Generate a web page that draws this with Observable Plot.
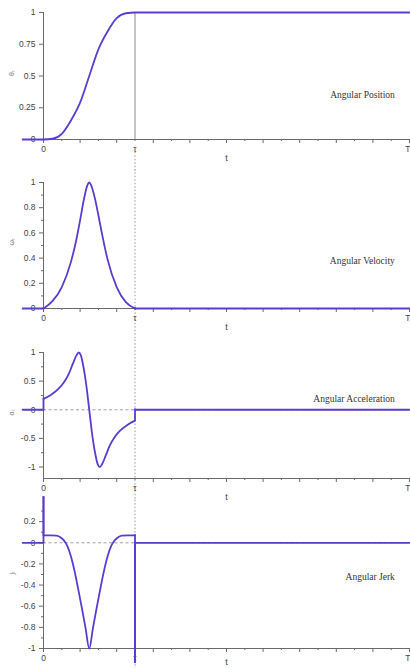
<!DOCTYPE html>
<html>
<head>
<meta charset="utf-8">
<script src="https://cdn.jsdelivr.net/npm/d3@7"></script>
<script src="https://cdn.jsdelivr.net/npm/@observablehq/plot@0.6"></script>
<style>
  html, body { margin: 0; padding: 0; background: #fff; }
  #wrap { position: relative; width: 410px; height: 668px; overflow: hidden; }
</style>
</head>
<body>
<div id="wrap"></div>
<script>
// ---- Data ----
const tau = 2.5;
const xMajorTicks = [0, 1, 2, 3, 4, 5, 6, 7, 8, 9, 10];
const xMinorTicks = [0.5, 1.5, 2.5, 3.5, 4.5, 5.5, 6.5, 7.5, 8.5, 9.5];
const xLabelTicks = [0, 2.5];
const xLabelTexts = ["0", "τ"];
const xEndTick = [10];
const xEndText = ["T"];

const titles = ["Angular Position", "Angular Velocity", "Angular Acceleration", "Angular Jerk"];
const symbols = ["θₜ", "ωₜ", "αₜ", "jₜ"];

// Angular position
const posT = [-0.57, 0, 0.25, 0.5, 0.75, 1.0, 1.25, 1.5, 1.75, 2.0, 2.25, 2.5, 10];
const posV = [0, 0, 0.006, 0.045, 0.15, 0.29, 0.5, 0.71, 0.85, 0.955, 0.994, 1, 1];

// Angular velocity
const velT = [-0.57, 0, 0, 0.25, 0.5, 0.75, 0.9, 1.0, 1.1, 1.2, 1.25, 1.3, 1.4, 1.5, 1.6, 1.75, 2.0, 2.25, 2.5, 2.5, 10];
const velV = [0, 0, 0, 0.06, 0.17, 0.37, 0.55, 0.7, 0.86, 0.98, 1.0, 0.98, 0.88, 0.74, 0.59, 0.39, 0.17, 0.05, 0, 0, 0];

// Angular acceleration
const accT = [-0.57, 0, 0, 0.2, 0.4, 0.55, 0.7, 0.8, 0.9, 0.96, 1.02, 1.1, 1.18, 1.25, 1.32, 1.4, 1.48, 1.54, 1.6, 1.7, 1.8, 1.95, 2.1, 2.3, 2.5, 2.5, 10];
const accV = [0, 0, 0.19, 0.26, 0.36, 0.47, 0.64, 0.8, 0.95, 1.0, 0.95, 0.72, 0.38, 0, -0.38, -0.72, -0.95, -1.0, -0.95, -0.8, -0.64, -0.47, -0.36, -0.26, -0.19, 0, 0];

// Angular jerk
const jerkT = [-0.57, 0, 0, 0, 0.2, 0.35, 0.45, 0.55, 0.65, 0.75, 0.85, 0.95, 1.05, 1.15, 1.25, 1.35, 1.45, 1.55, 1.65, 1.75, 1.85, 1.95, 2.05, 2.15, 2.3, 2.5, 2.5, 2.5, 10];
const jerkV = [0, 0, 0.43, 0.07, 0.07, 0.068, 0.055, 0.025, -0.03, -0.13, -0.27, -0.44, -0.62, -0.81, -1.0, -0.81, -0.62, -0.44, -0.27, -0.13, -0.03, 0.025, 0.055, 0.068, 0.07, 0.07, -1.13, 0, 0];

// Y ticks per panel
const yMajor = [
  [0, 0.25, 0.5, 0.75, 1],
  [0, 0.2, 0.4, 0.6, 0.8, 1],
  [-1, -0.5, 0, 0.5, 1],
  [-1, -0.8, -0.6, -0.4, -0.2, 0, 0.2]
];
const yMinor = [
  [],
  [0.1, 0.3, 0.5, 0.7, 0.9],
  [-0.75, -0.25, 0.25, 0.75],
  [-0.9, -0.7, -0.5, -0.3, -0.1, 0.1, 0.3]
];
const yDomains = [[0, 1], [0, 1], [-1.2, 1], [-1, 0.4]];

// ---- Layout / styles ----
const purple = "#5a3dd0";
const axisGray = "#6a6a6a";
const panels = [
  {T: posT, V: posV, top: 0, height: 170, mt: 12, mb: 31, titleY: 0.35, zero: false, solidTau: true, dotted: [-0.25, -0.08], tDy: 21},
  {T: velT, V: velV, top: 170, height: 168, mt: 12, mb: 30, titleY: 0.38, zero: false, solidTau: false, dotted: [-0.24, 1.1], tDy: 21},
  {T: accT, V: accV, top: 338, height: 160, mt: 14, mb: 20, titleY: 0.19, zero: true, solidTau: false, dotted: [-1.56, 1.25], tDy: 21},
  {T: jerkT, V: jerkV, top: 498, height: 170, mt: 2, mb: 20, titleY: -0.32, zero: true, solidTau: false, dotted: [-1.2, 0.42], tDy: 16}
];

function build(T, V) {
  const pts = [], jumps = [];
  let seg = 0;
  for (let i = 0; i < T.length; i++) {
    if (i > 0 && T[i] === T[i - 1]) {
      seg++;
      jumps.push({t: T[i], v1: V[i - 1], v2: V[i]});
    }
    pts.push({t: T[i], v: V[i], seg});
  }
  return {pts, jumps};
}

const wrap = document.getElementById("wrap");

panels.forEach((p, k) => {
  const {pts, jumps} = build(p.T, p.V);
  const dom = yDomains[k];
  const marks = [
    Plot.ruleX([{t: tau, y1: p.dotted[0], y2: p.dotted[1]}], {x: "t", y1: "y1", y2: "y2", stroke: "#9a9a9a", strokeWidth: 1, strokeDasharray: "1.5,2"}),
    p.zero ? Plot.ruleY([0], {stroke: "#a0a0a0", strokeWidth: 1, strokeDasharray: "3,2.5"}) : null,
    p.solidTau ? Plot.ruleX([{t: tau, y1: dom[0], y2: dom[1]}], {x: "t", y1: "y1", y2: "y2", stroke: "#8a8a8a", strokeWidth: 1}) : null,
    Plot.ruleY([dom[0]], {stroke: axisGray, strokeWidth: 1}),
    Plot.ruleX([0], {stroke: axisGray, strokeWidth: 1}),
    Plot.axisY({ticks: yMajor[k], tickSize: 4, tickPadding: 4, tickFormat: d => String(d), stroke: axisGray, fill: "#444", label: null}),
    yMinor[k].length ? Plot.axisY({ticks: yMinor[k], tickSize: 2, tickFormat: () => "", stroke: axisGray, label: null}) : null,
    Plot.axisX({ticks: xMajorTicks, tickSize: 4, tickFormat: () => "", stroke: axisGray, label: null}),
    Plot.axisX({ticks: xMinorTicks, tickSize: 2, tickFormat: () => "", stroke: axisGray, label: null}),
    Plot.axisX({ticks: xLabelTicks, tickSize: 0, tickPadding: 6, tickFormat: d => xLabelTexts[xLabelTicks.indexOf(d)], fill: "#444", label: null}),
    Plot.axisX({ticks: xEndTick, tickSize: 0, tickPadding: 6, tickFormat: d => xEndText[xEndTick.indexOf(d)], textAnchor: "end", dx: 1, fill: "#444", label: null}),
    Plot.text([{t: 5, s: "t"}], {x: "t", text: "s", frameAnchor: "bottom", dy: p.tDy, fill: "#444", fontSize: 9}),
    Plot.text([symbols[k]], {frameAnchor: "left", dx: -32, rotate: -90, fontSize: 7, fill: "#777"}),
    Plot.text([{t: 9.6, v: p.titleY, s: titles[k]}], {x: "t", y: "v", text: "s", textAnchor: "end", fontFamily: "Liberation Serif, Times New Roman, serif", fontSize: 9.5, fill: "#333"}),
    Plot.line(pts, {x: "t", y: "v", z: "seg", curve: "monotone-x", stroke: purple, strokeWidth: 1.8, strokeLinecap: "round", strokeLinejoin: "round"}),
    Plot.ruleX(jumps, {x: "t", y1: "v1", y2: "v2", stroke: purple, strokeWidth: 1.8, strokeLinecap: "round"})
  ].filter(Boolean);

  const svg = Plot.plot({
    width: 410,
    height: p.height,
    marginLeft: 43,
    marginRight: 1,
    marginTop: p.mt,
    marginBottom: p.mb,
    x: {domain: [0, 10], axis: null},
    y: {domain: dom, axis: null},
    style: {background: "transparent", overflow: "visible", fontFamily: "Liberation Sans, Arial, sans-serif", fontSize: "8.5px", color: "#444"},
    marks
  });
  svg.style.position = "absolute";
  svg.style.left = "0px";
  svg.style.top = p.top + "px";
  wrap.appendChild(svg);
});
</script>
</body>
</html>
